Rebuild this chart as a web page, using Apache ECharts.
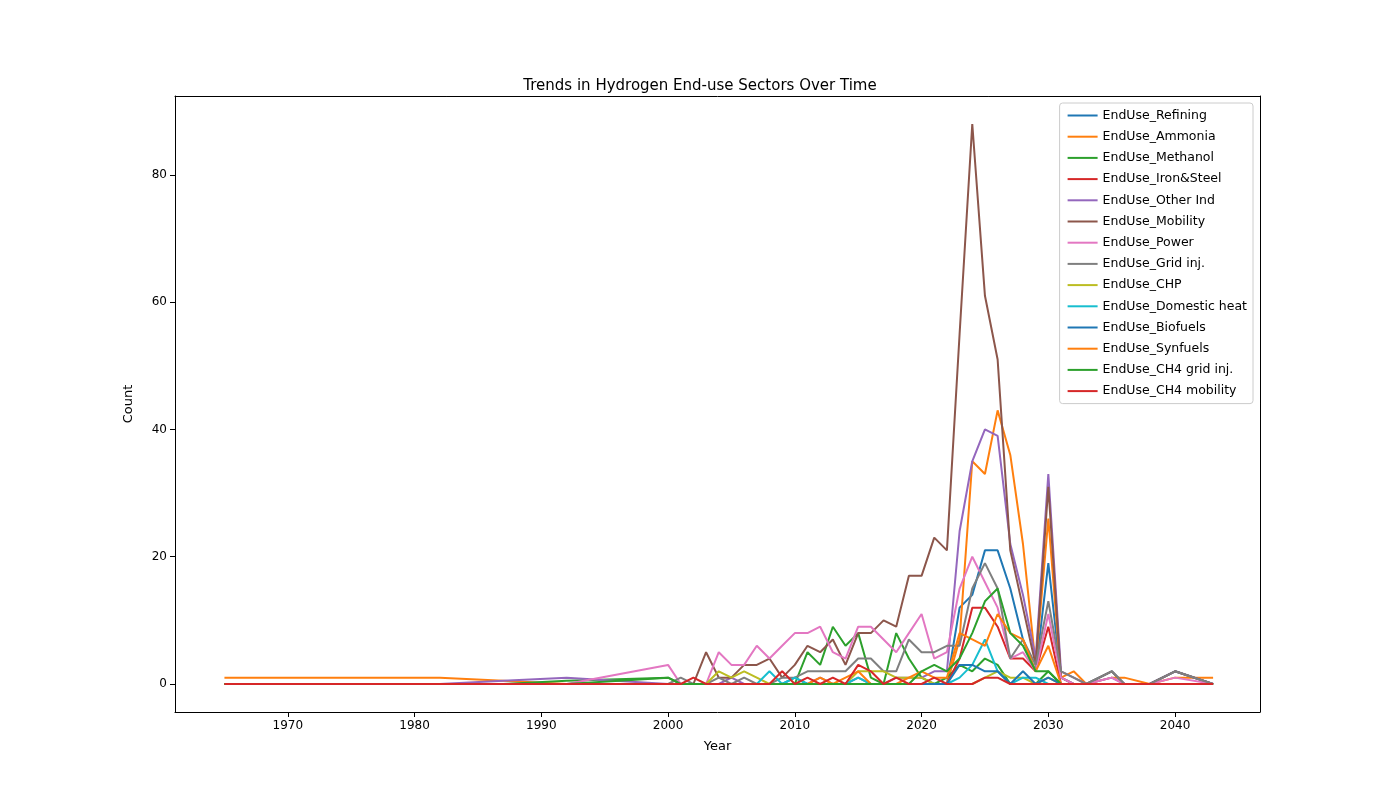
<!DOCTYPE html>
<html>
<head>
<meta charset="utf-8">
<script src="https://cdn.jsdelivr.net/npm/echarts@6/dist/echarts.min.js"></script>
<style>html,body{margin:0;padding:0;background:#fff}#chart{width:1400px;height:800px}</style>
</head>
<body>
<div id="chart"></div>
<script>
var years = [1965, 1982, 1987, 1992, 2000,
  2001, 2002, 2003, 2004, 2005, 2006, 2007, 2008, 2009, 2010,
  2011, 2012, 2013, 2014, 2015, 2016, 2017, 2018, 2019, 2020,
  2021, 2022, 2023, 2024, 2025, 2026, 2027, 2028, 2029, 2030,
  2031, 2032, 2033, 2035, 2036, 2038, 2040, 2043];
var xTicks = [1970, 1980, 1990, 2000, 2010, 2020, 2030, 2040];
var yTicks = [0, 20, 40, 60, 80];

// early(5) | 2001-2010 | 2011-2020 | 2021-2030 | 2031-2033 | late(5)
var refining = [0,0,0,0,0, 0,0,0,0,0,0,0,0,0,1, 0,0,0,0,0,0,0,0,0,0, 0,0,12,14,21,21,15,7,2,19, 1,0,0,2,0,0,2,0];
var ammonia = [1,1,0.5,0,0, 0,0,0,0,0,0,0,0,0,0, 0,0,0,0,0,0,0,0,0,0, 0,0,7,35,33,43,36,22,3,26, 1,2,0,1,1,0,1,1];
var methanol = [0,0,0,0.5,1, 0,0,0,0,0,0,0,0,0,0, 5,3,9,6,8,1,0,8,4,1, 0,1,3,2,4,3,0,0,0,2, 0,0,0,0,0,0,0,0];
var ironSteel = [0,0,0,0,0, 0,0,0,0,0,0,0,0,0,0, 0,0,0,0,0,0,0,0,0,0, 0,0,4,12,12,9,4,4,2,9, 0,0,0,0,0,0,0,0];
var otherInd = [0,0,0.5,1,0, 0,0,0,0,1,0,0,0,0,0, 0,1,0,0,1,0,0,1,1,1, 2,2,24,35,40,39,22,14,4,33, 2,1,0,1,0,0,2,0];
var mobility = [0,0,0,0,0, 0,0,5,1,1,3,3,4,1,3, 6,5,7,3,8,8,10,9,17,17, 23,21,55,88,61,51,21,12,3,31, 1,0,0,2,0,0,2,0];
var power = [0,0,0,0,3, 0,0,0,5,3,3,6,4,6,8, 8,9,5,4,9,9,7,5,8,11, 4,5,15,20,16,12,4,5,2,11, 1,0,0,1,0,0,1,0];
var gridInj = [0,0,0,0,0, 1,0,0,1,0,1,0,0,1,1, 2,2,2,2,4,4,2,2,7,5, 5,6,6,15,19,15,4,7,3,13, 2,1,0,2,0,0,2,0];
var chp = [0,0,0,0,0, 0,0,0,2,1,2,1,0,0,0, 0,0,0,0,2,2,2,1,1,1, 0,0,0,0,1,2,1,1,0,1, 0,0,0,0,0,0,0,0];
var domesticHeat = [0,0,0,0,0, 0,0,0,0,0,0,0,2,0,1, 0,0,0,0,1,0,0,0,0,0, 0,0,1,3,7,2,0,1,1,0, 0,0,0,0,0,0,0,0];
var biofuels = [0,0,0,0,0, 0,0,0,0,0,0,0,0,0,0, 0,0,0,0,0,0,0,0,0,0, 0,0,3,3,2,2,0,2,0,1, 0,0,0,0,0,0,0,0];
var synfuels = [0,0,0,0,0, 0,0,0,0,0,0,0,0,0,0, 0,1,0,1,2,0,0,0,1,2, 1,1,8,7,6,11,8,7,2,6, 0,0,0,0,0,0,0,0];
var ch4Grid = [0,0,0,0,1, 0,0,0,0,0,0,0,0,0,0, 0,0,0,0,0,0,0,0,0,2, 3,2,4,8,13,15,8,6,2,2, 0,0,0,0,0,0,0,0];
var ch4Mobility = [0,0,0,0,0, 0,1,0,0,0,0,0,0,2,0, 1,0,1,0,3,2,0,1,0,0, 1,0,0,0,1,1,0,0,0,0, 0,0,0,0,0,0,0,0];

var names = ['EndUse_Refining','EndUse_Ammonia','EndUse_Methanol','EndUse_Iron&Steel','EndUse_Other Ind',
  'EndUse_Mobility','EndUse_Power','EndUse_Grid inj.','EndUse_CHP','EndUse_Domestic heat',
  'EndUse_Biofuels','EndUse_Synfuels','EndUse_CH4 grid inj.','EndUse_CH4 mobility'];
var seriesData = [refining, ammonia, methanol, ironSteel, otherInd, mobility, power, gridInj,
  chp, domesticHeat, biofuels, synfuels, ch4Grid, ch4Mobility];
var colors = ['#1f77b4','#ff7f0e','#2ca02c','#d62728','#9467bd','#8c564b','#e377c2','#7f7f7f',
  '#bcbd22','#17becf','#1f77b4','#ff7f0e','#2ca02c','#d62728'];

var chart = echarts.init(document.getElementById('chart'));
var font = 'DejaVu Sans';
var plain = function (v) { return String(v); };
chart.setOption({
  animation: false,
  color: colors,
  textStyle: {fontFamily: font},
  title: {text: 'Trends in Hydrogen End-use Sectors Over Time', left: 'center', top: 74,
    textStyle: {fontFamily: font, fontSize: 15, fontWeight: 'normal', color: '#000'}},
  legend: {
    orient: 'vertical', right: 147, top: 103, padding: [6, 6, 6, 8],
    itemWidth: 30, itemHeight: 2, itemGap: 8.2,
    backgroundColor: '#fff', borderColor: '#ccc', borderWidth: 1, borderRadius: 3,
    icon: 'rect',
    textStyle: {fontFamily: font, fontSize: 12.5, color: '#000'},
    data: names
  },
  grid: {left: 175, right: 140, top: 96, bottom: 88, containLabel: false},
  xAxis: [{
    type: 'value', min: 1961.1, max: 2046.7,
    name: 'Year', nameLocation: 'middle', nameGap: 28,
    nameTextStyle: {fontFamily: font, fontSize: 13, color: '#000'},
    axisLine: {onZero: false, lineStyle: {color: '#000'}},
    axisTick: {show: true, lineStyle: {color: '#000'}, customValues: xTicks},
    axisLabel: {color: '#000', fontSize: 12, fontFamily: font, formatter: plain, customValues: xTicks},
    splitLine: {show: false}
  }, {
    type: 'value', position: 'top', min: 1961.1, max: 2046.7,
    axisLine: {show: true, onZero: false, lineStyle: {color: '#000'}},
    axisTick: {show: false}, axisLabel: {show: false}, splitLine: {show: false}
  }],
  yAxis: [{
    type: 'value', min: -4.4, max: 92.4,
    name: 'Count', nameLocation: 'middle', nameGap: 40,
    nameTextStyle: {fontFamily: font, fontSize: 13, color: '#000'},
    axisLine: {show: true, onZero: false, lineStyle: {color: '#000'}},
    axisTick: {show: true, lineStyle: {color: '#000'}, customValues: yTicks},
    axisLabel: {color: '#000', fontSize: 12, fontFamily: font, customValues: yTicks},
    splitLine: {show: false}
  }, {
    type: 'value', position: 'right', min: -4.4, max: 92.4,
    axisLine: {show: true, onZero: false, lineStyle: {color: '#000'}},
    axisTick: {show: false}, axisLabel: {show: false}, splitLine: {show: false}
  }],
  series: names.map(function (n, i) {
    return {
      name: n, type: 'line', showSymbol: false, symbol: 'none',
      lineStyle: {width: 2, color: colors[i]}, itemStyle: {color: colors[i]},
      data: years.map(function (y, j) { return [y, seriesData[i][j]]; })
    };
  })
});
</script>
</body>
</html>
